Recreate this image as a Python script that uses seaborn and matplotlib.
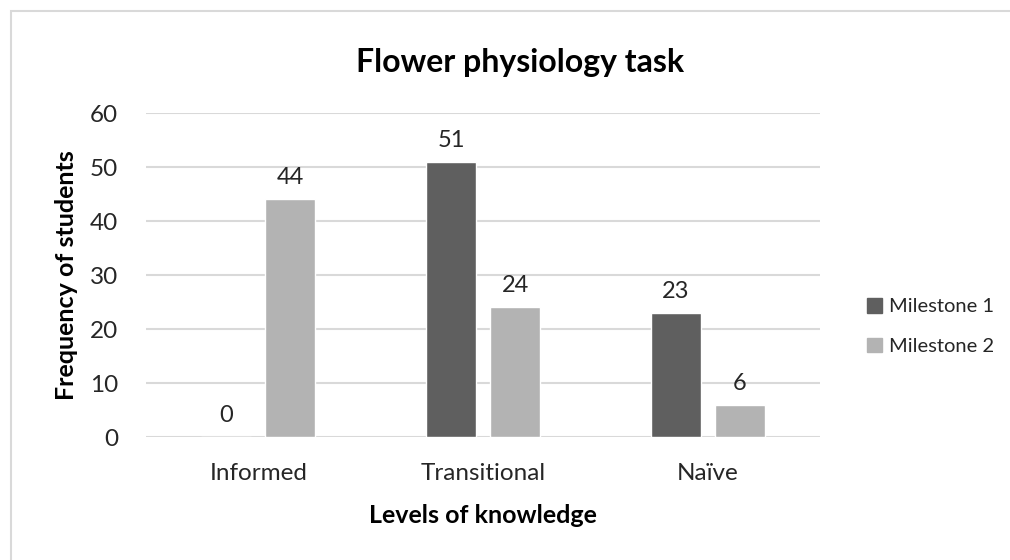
import matplotlib.pyplot as plt
import seaborn as sns
import pandas as pd
from matplotlib.patches import Rectangle

# ── Data ──────────────────────────────────────────────────────────────────────
LEVELS      = ["Informed", "Transitional", "Naïve"]
SERIES      = ["Milestone 1", "Milestone 2"]
MILESTONE_1 = [0, 51, 23]
MILESTONE_2 = [44, 24, 6]
Y_TICKS     = [0, 10, 20, 30, 40, 50, 60]

COLORS = {"Milestone 1": "#5f5f5f", "Milestone 2": "#b3b3b3"}
GRID   = "#d9d9d9"
TEXT   = "#262626"

df = pd.DataFrame({
    "level": LEVELS * 2,
    "series": [SERIES[0]] * len(LEVELS) + [SERIES[1]] * len(LEVELS),
    "value": MILESTONE_1 + MILESTONE_2,
})

# ── Figure ────────────────────────────────────────────────────────────────────
sns.set_theme(style="white")
plt.rcParams["font.family"] = ["Lato", "DejaVu Sans"]

fig = plt.figure(figsize=(10.1, 5.6), dpi=100)
ax = fig.add_axes([0.1446, 0.2196, 0.6673, 0.5784])

# light outer border (only top/left visible in the original)
fig.patches.append(Rectangle((11 / 1010, -0.1), 1.2, (560 - 11) / 560 + 0.1,
                             transform=fig.transFigure, fill=False,
                             edgecolor=GRID, linewidth=1.5))

sns.barplot(data=df, x="level", y="value", hue="series", order=LEVELS,
            hue_order=SERIES, palette=COLORS, width=0.57, gap=0.22,
            saturation=1, ax=ax, legend=False)

for cont in ax.containers:
    ax.bar_label(cont, padding=8, fontsize=17, color=TEXT)

ax.set_ylim(0, 60)
ax.set_yticks(Y_TICKS)
ax.yaxis.grid(True, color=GRID, linewidth=1.5)
ax.set_axisbelow(True)
for side in ["top", "right", "left", "bottom"]:
    ax.spines[side].set_visible(False)
ax.tick_params(axis="y", length=0, pad=20, labelsize=17.5, labelcolor=TEXT)
ax.tick_params(axis="x", length=0, pad=19, labelsize=17.5, labelcolor=TEXT)

ax.set_xlabel("Levels of knowledge", fontsize=18, fontweight="bold",
              color="black", labelpad=14)
ax.set_ylabel("Frequency of students", fontsize=18, fontweight="bold",
              color="black", labelpad=9)
fig.text(0.5154, 0.889, "Flower physiology task", ha="center", va="center",
         fontsize=23, fontweight="bold", color="black")

handles = [Rectangle((0, 0), 1, 1, color=COLORS[s]) for s in SERIES]
fig.legend(handles, SERIES, loc="center left", bbox_to_anchor=(0.84, 0.417),
           frameon=False, fontsize=14.5, handlelength=0.75, handleheight=0.75,
           handletextpad=0.35, labelspacing=1.1, labelcolor=TEXT)

fig.savefig("out.png", dpi=100)
